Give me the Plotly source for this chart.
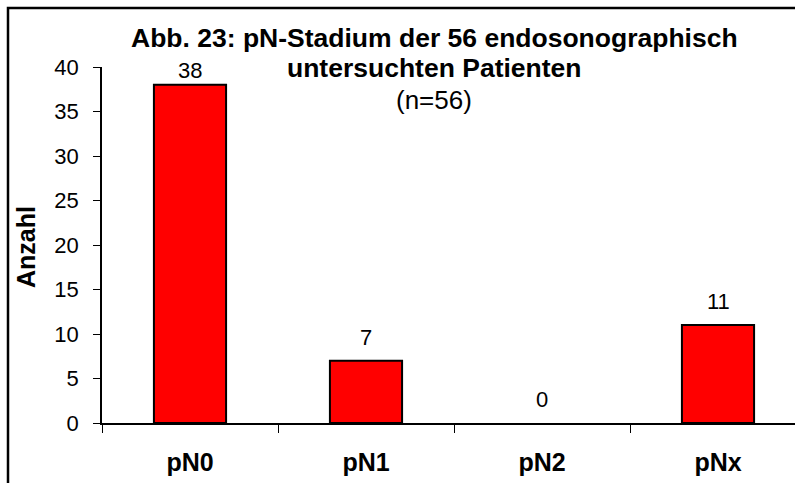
import plotly.graph_objects as go

categories = ["pN0", "pN1", "pN2", "pNx"]
values = [38, 7, 0, 11]
y_ticks = [0, 5, 10, 15, 20, 25, 30, 35, 40]
title_lines = ["Abb. 23: pN-Stadium der 56 endosonographisch", "untersuchten Patienten", "(n=56)"]

FONT = "Arial, Liberation Sans, sans-serif"
X0, X1, Y0, Y1 = 102, 795, 67, 423  # plot area in pixels
Y_MAX = 40


def px_x(x):
    return (x - X0) / (X1 - X0)


def px_y(y):
    return (Y1 - y) / (Y1 - Y0)


fig = go.Figure()
fig.add_trace(go.Bar(
    x=categories, y=values, width=0.41,
    marker=dict(color="#FF0000",
                line=dict(color="black", width=[2 if v > 0 else 0 for v in values])),
    hoverinfo="skip",
))

for c, v in zip(categories, values):
    bar_top = Y1 - v * (Y1 - Y0) / Y_MAX
    # labels sit ~16px above bar; clamp so they don't run into the title
    shift = 9 - max(0, 78 - (bar_top - 16))
    fig.add_annotation(x=c, y=v, text=str(v), showarrow=False, yanchor="bottom",
                       yshift=shift, font=dict(family=FONT, size=22, color="black"))

# title lines
for txt, cy, size, bold in [(title_lines[0], 38, 26.5, True),
                            (title_lines[1], 68, 26.5, True),
                            (title_lines[2], 100, 26, False)]:
    fig.add_annotation(
        xref="paper", yref="paper", x=px_x(434), y=px_y(cy),
        xanchor="center", yanchor="middle", showarrow=False,
        text=f"<b>{txt}</b>" if bold else txt,
        font=dict(family=FONT, size=size, color="black"),
    )

# y-axis title
fig.add_annotation(
    xref="paper", yref="paper", x=px_x(26), y=px_y(247),
    xanchor="center", yanchor="middle", showarrow=False, textangle=-90,
    text="<b>Anzahl</b>", font=dict(family=FONT, size=25, color="black"),
)

# outer frame
fig.add_shape(type="rect", xref="paper", yref="paper",
              x0=px_x(8), x1=1.2, y0=-0.5, y1=px_y(8),
              line=dict(color="black", width=2.5), fillcolor="rgba(0,0,0,0)", layer="above")

fig.update_layout(
    width=795, height=483,
    margin=dict(l=X0, r=795 - X1, t=Y0, b=483 - Y1),
    paper_bgcolor="white", plot_bgcolor="white",
    showlegend=False,
    font=dict(family=FONT, color="black"),
    xaxis=dict(
        type="category", range=[-0.5, 3.5 - 11 / 176],
        showline=True, linecolor="black", linewidth=1.5,
        ticks="outside", tickson="boundaries", ticklen=8, tickcolor="black", tickwidth=1,
        tickfont=dict(family=FONT, size=25, color="black", weight="bold"),
        ticklabelstandoff=16,
        showgrid=False, zeroline=False,
    ),
    yaxis=dict(
        range=[0, Y_MAX], tickvals=y_ticks,
        showline=True, linecolor="black", linewidth=1.5,
        ticks="outside", ticklen=7, tickcolor="black", tickwidth=1,
        tickfont=dict(family=FONT, size=22, color="black"),
        ticklabelstandoff=10,
        showgrid=False, zeroline=False,
    ),
)

fig.write_html("out.html", config={"displayModeBar": False},
               post_script="document.body.style.margin='0';document.body.style.overflow='hidden';")
